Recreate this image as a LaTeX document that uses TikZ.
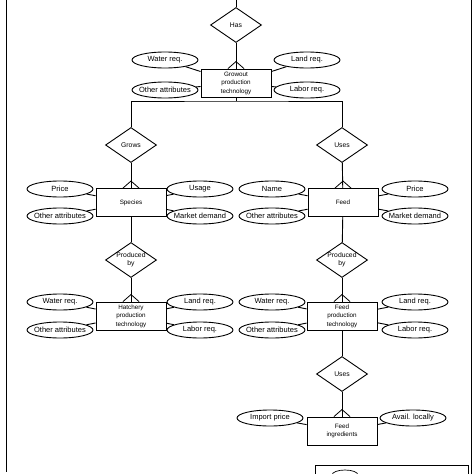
\documentclass[tikz,border=0pt]{standalone}
\usepackage{fontspec}
\setmainfont{Liberation Sans}
\usetikzlibrary{shapes.geometric}
\begin{document}
\begin{tikzpicture}[x=1pt,y=-1pt,line width=0.9pt,
  ent/.style={draw,rectangle,minimum width=70pt,minimum height=28pt,inner sep=0pt,align=center,font=\fontsize{6.3}{8.5}\selectfont},
  attr/.style={draw,ellipse,minimum width=66pt,minimum height=16pt,inner xsep=-9pt,inner ysep=0pt,font=\fontsize{7.5}{9}\selectfont},
  rel/.style={draw,diamond,aspect=1.46,minimum width=51pt,minimum height=35pt,inner sep=0pt,align=center,font=\fontsize{6.8}{8}\selectfont},
  crow/.style={line width=0.8pt}]
\useasboundingbox (0,0) rectangle (474,474);
\begin{scope}
\clip (0,0) rectangle (474,474);
% frame
\coordinate (fl1) at (6,0); \coordinate (fl2) at (6,472);
\coordinate (fr1) at (471,0); \coordinate (fr2) at (471,474);
\draw (fl1) -- (fl2);
\draw (fr1) -- (fr2);
% legend box (cut)
\coordinate (lg1) at (315,480); \coordinate (lg2) at (468,465);
\draw[line width=0.7pt] (lg1) |- (lg2) -- ++(0,15);
\node[draw,ellipse,minimum width=26pt,minimum height=10pt,inner sep=0pt,line width=0.7pt] (lgell) at (345,475) {};
\end{scope}

% top
\coordinate (top) at (236,0);
\node[rel] (has) at (236,25) {Has};
\node[ent] (gpt) at (236,83) {Growout\\production\\technology};
\node[attr] (gw) at (165,60) {Water req.};
\node[attr] (gl) at (307,60) {Land req.};
\node[attr] (go) at (165,90) {Other attributes};
\node[attr] (gb) at (307,90) {Labor req.};
\draw (top) -- (has);
\draw (has) -- (gpt);
\foreach \a in {gw,gl,go,gb} \draw (\a) -- (gpt);

% branch
\coordinate (hl) at (236,101);
\node[rel] (grows) at (131,145) {Grows};
\node[rel] (uses) at (342,145) {Uses};
\draw (gpt) -- (hl);
\draw (grows.north) |- (hl) -| (uses.north);

% species
\node[ent] (sp) at (131,202.5) {Species};
\node[attr] (sprice) at (60,189) {Price};
\node[attr] (soth) at (60,216) {Other attributes};
\node[attr] (susage) at (200,189) {Usage};
\node[attr] (smd) at (200,216) {Market demand};
\draw (grows) -- (sp);
\foreach \a in {sprice,soth,susage,smd} \draw (\a) -- (sp);

% feed
\node[ent] (fd) at (343,202.5) {Feed};
\node[attr] (fname) at (272,189) {Name};
\node[attr] (foth) at (272,216) {Other attributes};
\node[attr] (fprice) at (415,189) {Price};
\node[attr] (fmd) at (415,216) {Market demand};
\draw (uses) -- (fd);
\foreach \a in {fname,foth,fprice,fmd} \draw (\a) -- (fd);

% produced by
\node[rel] (pb1) at (131,260) {Produced\\by};
\node[rel] (pb2) at (342,260) {Produced\\by};
\draw (sp) -- (pb1);
\draw (fd) -- (pb2);

% hatchery
\node[ent] (hpt) at (131,316) {Hatchery\\production\\technology};
\node[attr] (hw) at (60,302) {Water req.};
\node[attr] (ho) at (60,330) {Other attributes};
\node[attr] (hl2) at (200,302) {Land req.};
\node[attr] (hb) at (200,330) {Labor req.};
\draw (pb1) -- (hpt);
\foreach \a in {hw,ho,hl2,hb} \draw (\a) -- (hpt);

% feed production
\node[ent] (fpt) at (342,316) {Feed\\production\\technology};
\node[attr] (fw) at (272,302) {Water req.};
\node[attr] (fo) at (272,330) {Other attributes};
\node[attr] (fl) at (415,302) {Land req.};
\node[attr] (fb) at (415,330) {Labor req.};
\draw (pb2) -- (fpt);
\foreach \a in {fw,fo,fl,fb} \draw (\a) -- (fpt);

% uses feed ingredients
\node[rel] (uses2) at (342,374) {Uses};
\node[ent] (fi) at (342,431) {Feed\\ingredients};
\node[attr] (imp) at (270,418) {Import price};
\node[attr] (avl) at (413,418) {Avail. locally};
\draw (fpt) -- (uses2);
\draw (uses2) -- (fi);
\foreach \a in {imp,avl} \draw (\a) -- (fi);

% crow's feet
\foreach \b in {gpt,sp,fd,hpt,fpt,fi}
  \draw[crow] ([xshift=-8pt]\b.north) -- ([yshift=7pt]\b.north) -- ([xshift=8pt]\b.north);
\end{tikzpicture}
\end{document}
